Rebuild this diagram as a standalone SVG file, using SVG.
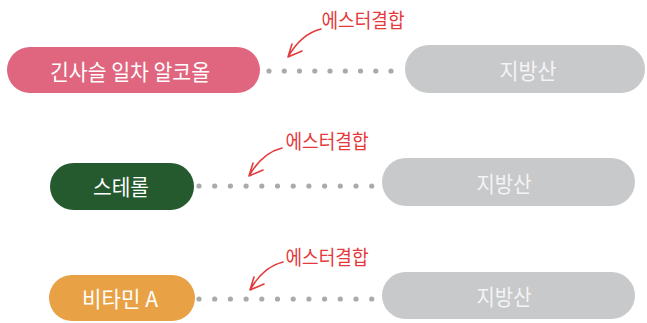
<svg xmlns="http://www.w3.org/2000/svg" width="647" height="323" viewBox="0 0 647 323">
<style>
.pill-text{font-family:"Noto Sans CJK KR","Noto Sans",sans-serif;font-size:22px;fill:#ffffff;text-anchor:middle;dominant-baseline:central}
.acid-text{font-family:"Noto Sans CJK KR","Noto Sans",sans-serif;font-size:22px;fill:#f4f4f5;text-anchor:middle;dominant-baseline:central}
.label{font-family:"Noto Sans CJK KR","Noto Sans",sans-serif;font-size:20px;fill:#e5393c;text-anchor:middle;dominant-baseline:central}
.acid{fill:#c8c9cb}
.dot{fill:#a9aaac}
.arrow{fill:none;stroke:#e23b3d;stroke-width:1.6;stroke-linecap:round;stroke-linejoin:round}
</style>
<defs>
<circle id="d" r="2.6" class="dot"/>
<path id="arr" class="arrow" d="M0,0 Q-20,5 -33,28 M-29,15 L-33,28 L-19,22"/>
</defs>
<rect width="647" height="323" fill="#ffffff"/>

<g id="alcohol">
<rect x="7" y="47" width="253" height="46" rx="23" fill="#e0667f"/>
<text class="pill-text" x="130" y="70" textLength="160" lengthAdjust="spacingAndGlyphs">긴사슬 일차 알코올</text>
</g>
<g id="fatty-acid-1">
<rect class="acid" x="405" y="45" width="240" height="48" rx="24"/>
<text class="acid-text" x="528" y="69" textLength="57" lengthAdjust="spacingAndGlyphs">지방산</text>
</g>
<g id="sterol">
<rect x="50" y="163" width="144" height="47" rx="23.5" fill="#255a2f"/>
<text class="pill-text" x="121" y="185" textLength="56" lengthAdjust="spacingAndGlyphs">스테롤</text>
</g>
<g id="fatty-acid-2">
<rect class="acid" x="382" y="158" width="253" height="48" rx="24"/>
<text class="acid-text" x="504" y="182" textLength="55" lengthAdjust="spacingAndGlyphs">지방산</text>
</g>
<g id="vitamin-a">
<rect x="49" y="275" width="146" height="46" rx="23" fill="#e8a144"/>
<text class="pill-text" x="120" y="297" textLength="76" lengthAdjust="spacingAndGlyphs">비타민 A</text>
</g>
<g id="fatty-acid-3">
<rect class="acid" x="382" y="272" width="253" height="47" rx="23.5"/>
<text class="acid-text" x="504" y="295" textLength="55" lengthAdjust="spacingAndGlyphs">지방산</text>
</g>

<g id="connectors">
<g id="bond-1">
<use href="#d" x="269" y="71"/><use href="#d" x="284.3" y="71"/><use href="#d" x="299.5" y="71"/><use href="#d" x="314.8" y="71"/><use href="#d" x="330" y="71"/><use href="#d" x="345.3" y="71"/><use href="#d" x="360.5" y="71"/><use href="#d" x="375.8" y="71"/><use href="#d" x="391" y="71"/>
</g>
<g id="bond-2">
<use href="#d" x="199" y="186"/><use href="#d" x="214.7" y="186"/><use href="#d" x="230.4" y="186"/><use href="#d" x="246.1" y="186"/><use href="#d" x="261.8" y="186"/><use href="#d" x="277.5" y="186"/><use href="#d" x="293.2" y="186"/><use href="#d" x="308.9" y="186"/><use href="#d" x="324.6" y="186"/><use href="#d" x="340.3" y="186"/><use href="#d" x="356" y="186"/><use href="#d" x="371.7" y="186"/>
</g>
<g id="bond-3">
<use href="#d" x="199" y="299"/><use href="#d" x="214.7" y="299"/><use href="#d" x="230.4" y="299"/><use href="#d" x="246.1" y="299"/><use href="#d" x="261.8" y="299"/><use href="#d" x="277.5" y="299"/><use href="#d" x="293.2" y="299"/><use href="#d" x="308.9" y="299"/><use href="#d" x="324.6" y="299"/><use href="#d" x="340.3" y="299"/><use href="#d" x="356" y="299"/><use href="#d" x="371.7" y="299"/>
</g>
<use href="#arr" x="321" y="29"/>
<use href="#arr" x="282" y="148"/>
<use href="#arr" x="283" y="262"/>
</g>

<g id="labels">
<text class="label" x="363" y="19" textLength="83" lengthAdjust="spacingAndGlyphs">에스터결합</text>
<text class="label" x="327" y="140" textLength="83" lengthAdjust="spacingAndGlyphs">에스터결합</text>
<text class="label" x="327" y="256" textLength="83" lengthAdjust="spacingAndGlyphs">에스터결합</text>
</g>
</svg>
